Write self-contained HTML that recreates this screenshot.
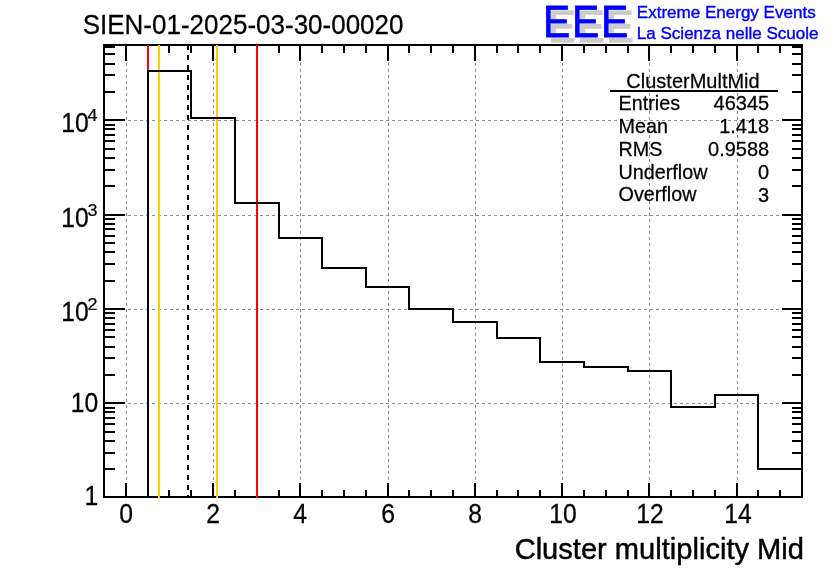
<!DOCTYPE html>
<html lang="en"><head><meta charset="utf-8"><title>SIEN-01-2025-03-30-00020</title>
<style>html,body{margin:0;padding:0;background:#fff;overflow:hidden}svg{display:block;will-change:transform}text{font-family:"Liberation Sans",sans-serif;fill:#000;stroke:#000;stroke-width:0.25px;stroke-linejoin:round}</style></head><body>
<svg width="836" height="572" viewBox="0 0 836 572">
<rect width="836" height="572" fill="#fff"/>
<g stroke="#8c8c8c" stroke-width="1" stroke-dasharray="3,3" fill="none" shape-rendering="crispEdges">
<line x1="126.5" y1="45" x2="126.5" y2="497"/>
<line x1="213.5" y1="45" x2="213.5" y2="497"/>
<line x1="300.5" y1="45" x2="300.5" y2="497"/>
<line x1="388.5" y1="45" x2="388.5" y2="497"/>
<line x1="475.5" y1="45" x2="475.5" y2="497"/>
<line x1="562.5" y1="45" x2="562.5" y2="497"/>
<line x1="649.5" y1="45" x2="649.5" y2="497"/>
<line x1="737.5" y1="45" x2="737.5" y2="497"/>
<line x1="104" y1="403.5" x2="802" y2="403.5"/>
<line x1="104" y1="309.5" x2="802" y2="309.5"/>
<line x1="104" y1="215.5" x2="802" y2="215.5"/>
<line x1="104" y1="120.5" x2="802" y2="120.5"/>
</g>
<g fill="#000" shape-rendering="crispEdges">
<rect x="125" y="483" width="2" height="14" fill="#000"/>
<rect x="125" y="45" width="2" height="16" fill="#000"/>
<rect x="147" y="490" width="2" height="7" fill="#000"/>
<rect x="147" y="45" width="2" height="8" fill="#000"/>
<rect x="168" y="490" width="2" height="7" fill="#000"/>
<rect x="168" y="45" width="2" height="8" fill="#000"/>
<rect x="190" y="490" width="2" height="7" fill="#000"/>
<rect x="190" y="45" width="2" height="8" fill="#000"/>
<rect x="212" y="483" width="2" height="14" fill="#000"/>
<rect x="212" y="45" width="2" height="16" fill="#000"/>
<rect x="234" y="490" width="2" height="7" fill="#000"/>
<rect x="234" y="45" width="2" height="8" fill="#000"/>
<rect x="256" y="490" width="2" height="7" fill="#000"/>
<rect x="256" y="45" width="2" height="8" fill="#000"/>
<rect x="278" y="490" width="2" height="7" fill="#000"/>
<rect x="278" y="45" width="2" height="8" fill="#000"/>
<rect x="299" y="483" width="2" height="14" fill="#000"/>
<rect x="299" y="45" width="2" height="16" fill="#000"/>
<rect x="321" y="490" width="2" height="7" fill="#000"/>
<rect x="321" y="45" width="2" height="8" fill="#000"/>
<rect x="343" y="490" width="2" height="7" fill="#000"/>
<rect x="343" y="45" width="2" height="8" fill="#000"/>
<rect x="365" y="490" width="2" height="7" fill="#000"/>
<rect x="365" y="45" width="2" height="8" fill="#000"/>
<rect x="387" y="483" width="2" height="14" fill="#000"/>
<rect x="387" y="45" width="2" height="16" fill="#000"/>
<rect x="408" y="490" width="2" height="7" fill="#000"/>
<rect x="408" y="45" width="2" height="8" fill="#000"/>
<rect x="430" y="490" width="2" height="7" fill="#000"/>
<rect x="430" y="45" width="2" height="8" fill="#000"/>
<rect x="452" y="490" width="2" height="7" fill="#000"/>
<rect x="452" y="45" width="2" height="8" fill="#000"/>
<rect x="474" y="483" width="2" height="14" fill="#000"/>
<rect x="474" y="45" width="2" height="16" fill="#000"/>
<rect x="496" y="490" width="2" height="7" fill="#000"/>
<rect x="496" y="45" width="2" height="8" fill="#000"/>
<rect x="517" y="490" width="2" height="7" fill="#000"/>
<rect x="517" y="45" width="2" height="8" fill="#000"/>
<rect x="539" y="490" width="2" height="7" fill="#000"/>
<rect x="539" y="45" width="2" height="8" fill="#000"/>
<rect x="561" y="483" width="2" height="14" fill="#000"/>
<rect x="561" y="45" width="2" height="16" fill="#000"/>
<rect x="583" y="490" width="2" height="7" fill="#000"/>
<rect x="583" y="45" width="2" height="8" fill="#000"/>
<rect x="605" y="490" width="2" height="7" fill="#000"/>
<rect x="605" y="45" width="2" height="8" fill="#000"/>
<rect x="627" y="490" width="2" height="7" fill="#000"/>
<rect x="627" y="45" width="2" height="8" fill="#000"/>
<rect x="648" y="483" width="2" height="14" fill="#000"/>
<rect x="648" y="45" width="2" height="16" fill="#000"/>
<rect x="670" y="490" width="2" height="7" fill="#000"/>
<rect x="670" y="45" width="2" height="8" fill="#000"/>
<rect x="692" y="490" width="2" height="7" fill="#000"/>
<rect x="692" y="45" width="2" height="8" fill="#000"/>
<rect x="714" y="490" width="2" height="7" fill="#000"/>
<rect x="714" y="45" width="2" height="8" fill="#000"/>
<rect x="736" y="483" width="2" height="14" fill="#000"/>
<rect x="736" y="45" width="2" height="16" fill="#000"/>
<rect x="757" y="490" width="2" height="7" fill="#000"/>
<rect x="757" y="45" width="2" height="8" fill="#000"/>
<rect x="779" y="490" width="2" height="7" fill="#000"/>
<rect x="779" y="45" width="2" height="8" fill="#000"/>
<rect x="104" y="468" width="11" height="2" fill="#000"/>
<rect x="792" y="468" width="10" height="2" fill="#000"/>
<rect x="104" y="452" width="11" height="2" fill="#000"/>
<rect x="792" y="452" width="10" height="2" fill="#000"/>
<rect x="104" y="440" width="11" height="2" fill="#000"/>
<rect x="792" y="440" width="10" height="2" fill="#000"/>
<rect x="104" y="431" width="11" height="2" fill="#000"/>
<rect x="792" y="431" width="10" height="2" fill="#000"/>
<rect x="104" y="423" width="11" height="2" fill="#000"/>
<rect x="792" y="423" width="10" height="2" fill="#000"/>
<rect x="104" y="417" width="11" height="2" fill="#000"/>
<rect x="792" y="417" width="10" height="2" fill="#000"/>
<rect x="104" y="411" width="11" height="2" fill="#000"/>
<rect x="792" y="411" width="10" height="2" fill="#000"/>
<rect x="104" y="407" width="11" height="2" fill="#000"/>
<rect x="792" y="407" width="10" height="2" fill="#000"/>
<rect x="104" y="402" width="21" height="2" fill="#000"/>
<rect x="782" y="402" width="20" height="2" fill="#000"/>
<rect x="104" y="374" width="11" height="2" fill="#000"/>
<rect x="792" y="374" width="10" height="2" fill="#000"/>
<rect x="104" y="357" width="11" height="2" fill="#000"/>
<rect x="792" y="357" width="10" height="2" fill="#000"/>
<rect x="104" y="346" width="11" height="2" fill="#000"/>
<rect x="792" y="346" width="10" height="2" fill="#000"/>
<rect x="104" y="336" width="11" height="2" fill="#000"/>
<rect x="792" y="336" width="10" height="2" fill="#000"/>
<rect x="104" y="329" width="11" height="2" fill="#000"/>
<rect x="792" y="329" width="10" height="2" fill="#000"/>
<rect x="104" y="323" width="11" height="2" fill="#000"/>
<rect x="792" y="323" width="10" height="2" fill="#000"/>
<rect x="104" y="317" width="11" height="2" fill="#000"/>
<rect x="792" y="317" width="10" height="2" fill="#000"/>
<rect x="104" y="312" width="11" height="2" fill="#000"/>
<rect x="792" y="312" width="10" height="2" fill="#000"/>
<rect x="104" y="308" width="21" height="2" fill="#000"/>
<rect x="782" y="308" width="20" height="2" fill="#000"/>
<rect x="104" y="280" width="11" height="2" fill="#000"/>
<rect x="792" y="280" width="10" height="2" fill="#000"/>
<rect x="104" y="263" width="11" height="2" fill="#000"/>
<rect x="792" y="263" width="10" height="2" fill="#000"/>
<rect x="104" y="251" width="11" height="2" fill="#000"/>
<rect x="792" y="251" width="10" height="2" fill="#000"/>
<rect x="104" y="242" width="11" height="2" fill="#000"/>
<rect x="792" y="242" width="10" height="2" fill="#000"/>
<rect x="104" y="235" width="11" height="2" fill="#000"/>
<rect x="792" y="235" width="10" height="2" fill="#000"/>
<rect x="104" y="228" width="11" height="2" fill="#000"/>
<rect x="792" y="228" width="10" height="2" fill="#000"/>
<rect x="104" y="223" width="11" height="2" fill="#000"/>
<rect x="792" y="223" width="10" height="2" fill="#000"/>
<rect x="104" y="218" width="11" height="2" fill="#000"/>
<rect x="792" y="218" width="10" height="2" fill="#000"/>
<rect x="104" y="214" width="21" height="2" fill="#000"/>
<rect x="782" y="214" width="20" height="2" fill="#000"/>
<rect x="104" y="185" width="11" height="2" fill="#000"/>
<rect x="792" y="185" width="10" height="2" fill="#000"/>
<rect x="104" y="169" width="11" height="2" fill="#000"/>
<rect x="792" y="169" width="10" height="2" fill="#000"/>
<rect x="104" y="157" width="11" height="2" fill="#000"/>
<rect x="792" y="157" width="10" height="2" fill="#000"/>
<rect x="104" y="148" width="11" height="2" fill="#000"/>
<rect x="792" y="148" width="10" height="2" fill="#000"/>
<rect x="104" y="140" width="11" height="2" fill="#000"/>
<rect x="792" y="140" width="10" height="2" fill="#000"/>
<rect x="104" y="134" width="11" height="2" fill="#000"/>
<rect x="792" y="134" width="10" height="2" fill="#000"/>
<rect x="104" y="128" width="11" height="2" fill="#000"/>
<rect x="792" y="128" width="10" height="2" fill="#000"/>
<rect x="104" y="124" width="11" height="2" fill="#000"/>
<rect x="792" y="124" width="10" height="2" fill="#000"/>
<rect x="104" y="119" width="21" height="2" fill="#000"/>
<rect x="782" y="119" width="20" height="2" fill="#000"/>
<rect x="104" y="91" width="11" height="2" fill="#000"/>
<rect x="792" y="91" width="10" height="2" fill="#000"/>
<rect x="104" y="74" width="11" height="2" fill="#000"/>
<rect x="792" y="74" width="10" height="2" fill="#000"/>
<rect x="104" y="63" width="11" height="2" fill="#000"/>
<rect x="792" y="63" width="10" height="2" fill="#000"/>
<rect x="104" y="53" width="11" height="2" fill="#000"/>
<rect x="792" y="53" width="10" height="2" fill="#000"/>
<rect x="104" y="46" width="11" height="2" fill="#000"/>
<rect x="792" y="46" width="10" height="2" fill="#000"/>
</g>
<g fill="#000" shape-rendering="crispEdges">
<rect x="103" y="44" width="700" height="2" fill="#000"/>
<rect x="103" y="496" width="700" height="2" fill="#000"/>
<rect x="103" y="44" width="2" height="454" fill="#000"/>
<rect x="801" y="44" width="2" height="454" fill="#000"/>
</g>
<g shape-rendering="crispEdges">
<rect x="147" y="45" width="2" height="453" fill="#ff0000"/>
<rect x="158" y="45" width="2" height="453" fill="#ffcc00"/>
<rect x="216" y="45" width="2" height="453" fill="#ffcc00"/>
<rect x="256" y="45" width="2" height="453" fill="#ff0000"/>
<line x1="188" y1="45" x2="188" y2="498" stroke="#000" stroke-width="2" stroke-dasharray="5,5"/>
</g>
<path d="M148,497 L148,71 L191,71 L191,118 L235,118 L235,203 L279,203 L279,238 L322,238 L322,268 L366,268 L366,287 L409,287 L409,309 L453,309 L453,322 L497,322 L497,338 L540,338 L540,362 L584,362 L584,367 L628,367 L628,371 L671,371 L671,407 L715,407 L715,395 L758,395 L758,469 L802,469" fill="none" stroke="#000" stroke-width="2" stroke-linejoin="miter" stroke-linecap="square" shape-rendering="crispEdges"/>
<text transform="translate(82.7,34.2) scale(1.0,1.075)" font-size="26.0">SIEN-01-2025-03-30-00020</text>
<text transform="translate(126.2,522.5) scale(1.0,1.11)" font-size="24.7" text-anchor="middle">0</text>
<text transform="translate(213.2,522.5) scale(1.0,1.11)" font-size="24.7" text-anchor="middle">2</text>
<text transform="translate(300.2,522.5) scale(1.0,1.11)" font-size="24.7" text-anchor="middle">4</text>
<text transform="translate(388.2,522.5) scale(1.0,1.11)" font-size="24.7" text-anchor="middle">6</text>
<text transform="translate(475.2,522.5) scale(1.0,1.11)" font-size="24.7" text-anchor="middle">8</text>
<text transform="translate(563.0,522.5) scale(1.0,1.11)" font-size="24.7" text-anchor="middle">10</text>
<text transform="translate(650.0,522.5) scale(1.0,1.11)" font-size="24.7" text-anchor="middle">12</text>
<text transform="translate(738.0,522.5) scale(1.0,1.11)" font-size="24.7" text-anchor="middle">14</text>
<text transform="translate(98.3,505.3) scale(1.0,1.11)" font-size="24.7" text-anchor="end">1</text>
<text transform="translate(98.3,411.6) scale(1.0,1.11)" font-size="24.7" text-anchor="end">10</text>
<text transform="translate(88.7,321.2) scale(1.0,1.11)" font-size="24.7" text-anchor="end">10</text>
<text transform="translate(87.6,310.0) scale(1.0,0.93)" font-size="17.9">2</text>
<text transform="translate(88.7,227.2) scale(1.0,1.11)" font-size="24.7" text-anchor="end">10</text>
<text transform="translate(87.6,216.0) scale(1.0,0.93)" font-size="17.9">3</text>
<text transform="translate(88.7,132.2) scale(1.0,1.11)" font-size="24.7" text-anchor="end">10</text>
<text transform="translate(87.6,121.0) scale(1.0,0.93)" font-size="17.9">4</text>
<text x="804" y="559.3" font-size="29.1" text-anchor="end" style="stroke-width:0.45px">Cluster multiplicity Mid</text>
<text transform="translate(693,87.8) scale(1.0,1.04)" font-size="20" text-anchor="middle">ClusterMultMid</text>
<rect x="610" y="90" width="168" height="2" fill="#000" shape-rendering="crispEdges"/>
<text transform="translate(618.6,109.8) scale(1.0,1.04)" font-size="19.75">Entries</text>
<text transform="translate(769.2,110.0) scale(1.0,1.04)" font-size="20" text-anchor="end">46345</text>
<text transform="translate(618.6,132.7) scale(1.0,1.04)" font-size="19.75">Mean</text>
<text transform="translate(769.2,132.9) scale(1.0,1.04)" font-size="20" text-anchor="end">1.418</text>
<text transform="translate(618.6,155.6) scale(1.0,1.04)" font-size="19.75">RMS</text>
<text transform="translate(769.2,155.8) scale(1.0,1.04)" font-size="20" text-anchor="end">0.9588</text>
<text transform="translate(618.6,178.5) scale(1.0,1.04)" font-size="19.75">Underflow</text>
<text transform="translate(769.2,178.7) scale(1.0,1.04)" font-size="20" text-anchor="end">0</text>
<text transform="translate(618.6,201.4) scale(1.0,1.04)" font-size="19.75">Overflow</text>
<text transform="translate(769.2,201.6) scale(1.0,1.04)" font-size="20" text-anchor="end">3</text>
<text aria-hidden="true" transform="translate(548.2,41.6) scale(0.94,1.012)" font-size="43.5" style="fill:#cccccc;stroke:#cccccc;stroke-width:1.4px;stroke-linejoin:miter;letter-spacing:1.85px">EEE</text>
<text aria-hidden="true" transform="translate(543.1,36.6) scale(0.94,1.012)" font-size="43.5" style="fill:#ffffff;stroke:#ffffff;stroke-width:1.5px;stroke-linejoin:miter;letter-spacing:1.85px">EEE</text>
<text transform="translate(543.1,36.6) scale(0.94,1.012)" font-size="43.5" style="fill:#0000ff;stroke:#0000ff;stroke-width:0.8px;stroke-linejoin:miter;letter-spacing:1.85px">EEE</text>
<text transform="translate(636.8,18.1) scale(1.0,1.015)" font-size="17.05" style="fill:#0000ff;stroke:#0000ff;stroke-width:0.4px">Extreme Energy Events</text>
<text transform="translate(636.8,38.7) scale(1.0,1.015)" font-size="17.05" style="fill:#0000ff;stroke:#0000ff;stroke-width:0.4px">La Scienza nelle Scuole</text>
</svg></body></html>
